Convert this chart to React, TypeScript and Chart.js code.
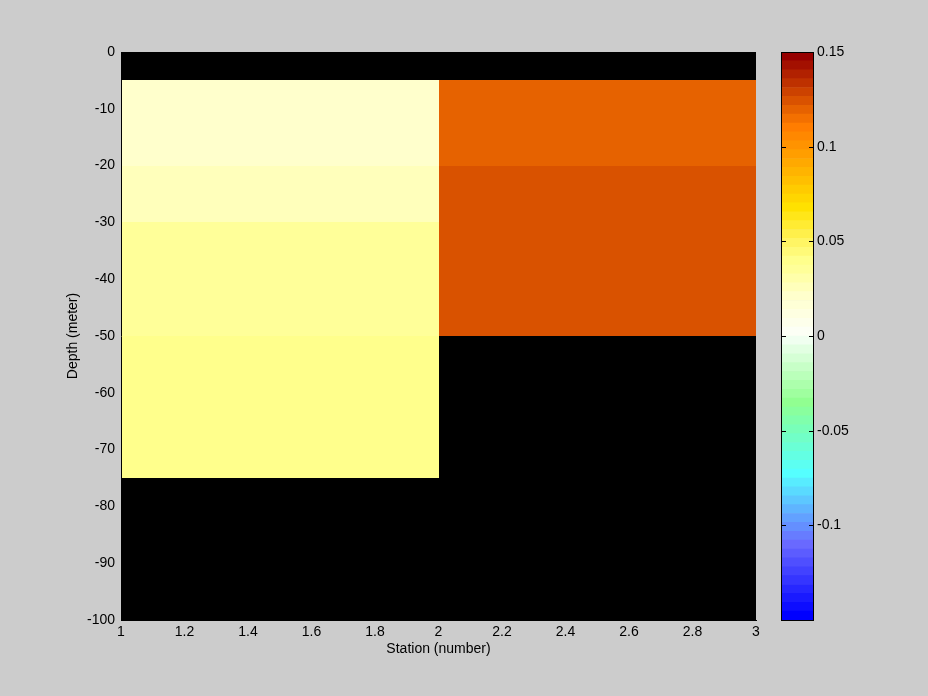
import React, { useEffect, useRef } from "react";
import { Chart, registerables } from "chart.js";

Chart.register(...registerables);

// ---- data ----
const STATION_EDGES = [1, 2, 3];
const DEPTH_EDGES = [0, -5, -20, -30, -50, -75, -100];
// one value per depth layer (null = no data, shown black)
const STATION1_VALUES: (number | null)[] = [null, 0.021, 0.025, 0.035, 0.039, null];
const STATION2_VALUES: (number | null)[] = [null, 0.119, 0.124, 0.124, null, null];

const X_TICKS = [1, 1.2, 1.4, 1.6, 1.8, 2, 2.2, 2.4, 2.6, 2.8, 3];
const X_TICK_LABELS = ["1", "1.2", "1.4", "1.6", "1.8", "2", "2.2", "2.4", "2.6", "2.8", "3"];
const Y_TICKS = [0, -10, -20, -30, -40, -50, -60, -70, -80, -90, -100];
const Y_TICK_LABELS = ["0", "-10", "-20", "-30", "-40", "-50", "-60", "-70", "-80", "-90", "-100"];
const CB_TICKS = [-0.1, -0.05, 0, 0.05, 0.1, 0.15];
const CB_TICK_LABELS = ["-0.1", "-0.05", "0", "0.05", "0.1", "0.15"];
const CB_MIN = -0.15;
const CB_MAX = 0.15;
const CB_LEVELS = 64;

// ---- colormap (style) : anchors by band index ----
const CMAP_ANCHORS: [number, [number, number, number]][] = [
  [0, [0, 0, 255]],
  [8, [105, 105, 255]],
  [16, [85, 255, 255]],
  [21, [120, 255, 185]],
  [24, [145, 255, 145]],
  [31, [240, 255, 240]],
  [32, [252, 255, 245]],
  [36, [255, 255, 204]],
  [37, [255, 255, 187]],
  [39, [255, 255, 153]],
  [40, [255, 255, 140]],
  [42, [255, 245, 100]],
  [46, [255, 225, 0]],
  [50, [255, 180, 0]],
  [55, [255, 125, 0]],
  [57, [230, 98, 0]],
  [58, [217, 82, 0]],
  [63, [150, 0, 0]],
];

function bandColor(k: number): string {
  for (let i = 0; i < CMAP_ANCHORS.length - 1; i++) {
    const [k0, c0] = CMAP_ANCHORS[i];
    const [k1, c1] = CMAP_ANCHORS[i + 1];
    if (k >= k0 && k <= k1) {
      const t = k1 === k0 ? 0 : (k - k0) / (k1 - k0);
      const c = c0.map((v, j) => Math.round(v + (c1[j] - v) * t));
      return `rgb(${c[0]},${c[1]},${c[2]})`;
    }
  }
  return "rgb(0,0,0)";
}
const BAND_COLORS = Array.from({ length: CB_LEVELS }, (_, k) => bandColor(k));

function colorFor(v: number | null): string {
  if (v === null) return "#000000";
  let k = Math.floor(((v - CB_MIN) / (CB_MAX - CB_MIN)) * CB_LEVELS);
  k = Math.max(0, Math.min(CB_LEVELS - 1, k));
  return BAND_COLORS[k];
}

const FONT = { family: "'Liberation Sans', Arial, sans-serif", size: 14 };
const COLUMNS = [STATION1_VALUES, STATION2_VALUES];

const cellsPlugin = {
  id: "cells",
  beforeDraw(chart: any) {
    const { ctx, scales } = chart;
    const xs = scales.x;
    const ys = scales.y;
    ctx.save();
    COLUMNS.forEach((col, c) => {
      const x0 = Math.round(xs.getPixelForValue(STATION_EDGES[c]));
      const x1 = Math.round(xs.getPixelForValue(STATION_EDGES[c + 1]));
      col.forEach((v, i) => {
        const y0 = Math.round(ys.getPixelForValue(DEPTH_EDGES[i]));
        const y1 = Math.round(ys.getPixelForValue(DEPTH_EDGES[i + 1]));
        ctx.fillStyle = colorFor(v);
        ctx.fillRect(x0, y0, x1 - x0, y1 - y0);
      });
    });
    ctx.restore();
  },
};

const cbFramePlugin = {
  id: "cbframe",
  afterDraw(chart: any) {
    const { ctx, chartArea } = chart;
    const ys = chart.scales.y;
    const l = chartArea.left;
    const r = chartArea.right;
    ctx.save();
    ctx.strokeStyle = "#000";
    ctx.lineWidth = 1;
    ctx.strokeRect(l + 0.5, chartArea.top + 0.5, r - l, chartArea.bottom - chartArea.top);
    CB_TICKS.forEach((v) => {
      const y = Math.round(ys.getPixelForValue(v)) + 0.5;
      ctx.beginPath();
      ctx.moveTo(l, y);
      ctx.lineTo(l + 5, y);
      ctx.moveTo(r + 1, y);
      ctx.lineTo(r - 4, y);
      ctx.stroke();
    });
    ctx.restore();
  },
};

export default function App() {
  const mainRef = useRef<HTMLCanvasElement>(null);
  const cbRef = useRef<HTMLCanvasElement>(null);

  useEffect(() => {
    const main = new Chart(mainRef.current!, {
      type: "scatter",
      data: { datasets: [{ data: [], showLine: false }] },
      plugins: [cellsPlugin],
      options: {
        animation: false,
        responsive: false,
        devicePixelRatio: 1,
        layout: { padding: { left: 0, top: 52, right: 172, bottom: 0 } },
        plugins: { legend: { display: false }, tooltip: { enabled: false } },
        scales: {
          x: {
            type: "linear",
            position: "bottom",
            min: 1,
            max: 3,
            grid: { display: false, drawTicks: false },
            border: { display: true, color: "#000", width: 1 },
            afterBuildTicks: (s: any) => {
              s.ticks = X_TICKS.map((v) => ({ value: v }));
            },
            afterFit: (s: any) => {
              s.height = 76;
            },
            ticks: {
              color: "#000",
              font: FONT,
              padding: 4,
              autoSkip: false,
              maxRotation: 0,
              callback: (_v: any, i: number) => X_TICK_LABELS[i],
            },
            title: {
              display: true,
              text: "Station (number)",
              color: "#000",
              font: FONT,
              padding: { top: 0, bottom: 38 },
            },
          },
          y: {
            type: "linear",
            position: "left",
            min: -100,
            max: 0,
            grid: { display: false, drawTicks: false },
            border: { display: true, color: "#000", width: 1 },
            afterBuildTicks: (s: any) => {
              s.ticks = Y_TICKS.map((v) => ({ value: v }));
            },
            afterFit: (s: any) => {
              s.width = 121;
            },
            ticks: {
              color: "#000",
              font: FONT,
              padding: 6,
              autoSkip: false,
              callback: (_v: any, i: number) => Y_TICK_LABELS[i],
            },
            title: {
              display: true,
              text: "Depth (meter)",
              color: "#000",
              font: FONT,
              padding: { top: 65, bottom: 0 },
            },
          },
        },
      },
    } as any);

    const bandDatasets = BAND_COLORS.map((col, k) => ({
      data: [[
        CB_MIN + (k * (CB_MAX - CB_MIN)) / CB_LEVELS,
        CB_MIN + ((k + 1) * (CB_MAX - CB_MIN)) / CB_LEVELS,
      ]],
      backgroundColor: col,
      borderWidth: 0,
      grouped: false,
      categoryPercentage: 1,
      barPercentage: 1,
    }));

    const cb = new Chart(cbRef.current!, {
      type: "bar",
      data: { labels: ["colorbar"], datasets: bandDatasets },
      plugins: [cbFramePlugin],
      options: {
        animation: false,
        responsive: false,
        devicePixelRatio: 1,
        layout: { padding: { left: 781, top: 52, right: 0, bottom: 76 } },
        plugins: { legend: { display: false }, tooltip: { enabled: false } },
        scales: {
          x: { type: "category", display: false },
          y: {
            type: "linear",
            position: "right",
            min: CB_MIN,
            max: CB_MAX,
            grid: { display: false, drawTicks: false },
            border: { display: false },
            afterBuildTicks: (s: any) => {
              s.ticks = CB_TICKS.map((v) => ({ value: v }));
            },
            afterFit: (s: any) => {
              s.width = 115;
            },
            ticks: {
              color: "#000",
              font: FONT,
              padding: 4,
              autoSkip: false,
              callback: (_v: any, i: number) => CB_TICK_LABELS[i],
            },
          },
        },
      },
    } as any);

    return () => {
      main.destroy();
      cb.destroy();
    };
  }, []);

  return (
    <div
      style={{
        position: "absolute",
        left: 0,
        top: 0,
        width: 928,
        height: 696,
        background: "#cccccc",
      }}
    >
      <canvas
        ref={mainRef}
        width={928}
        height={696}
        style={{ position: "absolute", left: 0, top: 0, width: 928, height: 696 }}
      />
      <canvas
        ref={cbRef}
        width={928}
        height={696}
        style={{ position: "absolute", left: 0, top: 0, width: 928, height: 696 }}
      />
    </div>
  );
}
